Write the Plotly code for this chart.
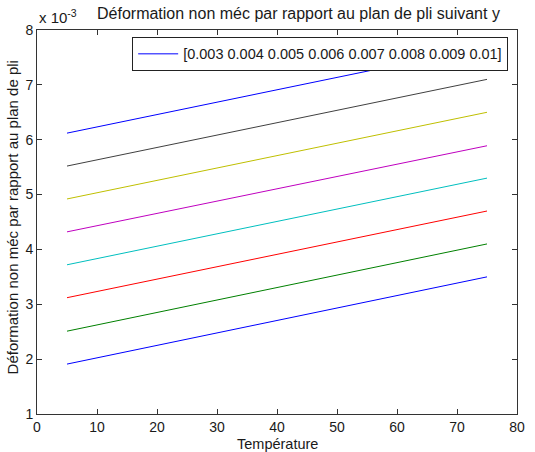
import plotly.graph_objects as go

# Data (values in strain units; y axis scaled x 10^-3)
temperature = [5, 75]
legend_label = "[0.003 0.004 0.005 0.006 0.007 0.008 0.009 0.01]"
start_vals = [1.91e-3, 2.51e-3, 3.12e-3, 3.72e-3, 4.32e-3, 4.92e-3, 5.52e-3, 6.12e-3]
end_vals = [3.50e-3, 4.10e-3, 4.70e-3, 5.30e-3, 5.89e-3, 6.50e-3, 7.10e-3, 7.70e-3]
colors = ["#0000ff", "#008000", "#ff0000", "#00bfbf", "#bf00bf", "#bfbf00", "#404040", "#0000ff"]
x_ticks = [0, 10, 20, 30, 40, 50, 60, 70, 80]
y_ticks = [1e-3, 2e-3, 3e-3, 4e-3, 5e-3, 6e-3, 7e-3, 8e-3]
y_ticklabels = ["1", "2", "3", "4", "5", "6", "7", "8"]

FONT = "Liberation Sans, Arial, sans-serif"

fig = go.Figure()
for i, (s, e) in enumerate(zip(start_vals, end_vals)):
    fig.add_trace(go.Scatter(
        x=temperature, y=[s, e], mode="lines",
        line=dict(color=colors[i], width=1),
        name=legend_label if i == 0 else "serie %d" % i,
        legendgroup="g%d" % i,
        showlegend=(i == 0),
    ))

W, H = 535, 452
ml, mr, mt, mb = 37, 10, 30, 38

fig.update_layout(
    width=W, height=H,
    margin=dict(l=ml, r=mr, t=mt, b=mb),
    paper_bgcolor="white", plot_bgcolor="white",
    font=dict(family=FONT, size=14, color="#1a1a1a"),
    showlegend=True,
    legend=dict(
        x=0.9816, y=0.982, xanchor="right", yanchor="top",
        bgcolor="white", bordercolor="#222", borderwidth=1,
        itemwidth=40,
        font=dict(family=FONT, size=14.5, color="#1a1a1a"),
    ),
)
fig.update_xaxes(
    range=[0, 80], tickvals=x_ticks, ticks="inside", ticklen=5,
    tickcolor="#333", showline=True, linecolor="#333", linewidth=1,
    mirror="ticks", showgrid=False, zeroline=False,
    tickfont=dict(family=FONT, size=14),
)
fig.update_yaxes(
    range=[1e-3, 8e-3], tickvals=y_ticks, ticktext=y_ticklabels,
    ticks="inside", ticklen=5, tickcolor="#333", showline=True,
    linecolor="#333", linewidth=1, mirror="ticks", showgrid=False,
    zeroline=False, tickfont=dict(family=FONT, size=14),
)

pw = W - ml - mr
ph = H - mt - mb
def px_x(p):
    return (p - ml) / pw
def px_y(p):
    return 1 - (p - mt) / ph

fig.add_annotation(text="Déformation non méc par rapport au plan de pli suivant y",
                   x=px_x(303), y=px_y(14), xref="paper", yref="paper",
                   showarrow=False, xanchor="center", yanchor="middle",
                   font=dict(family=FONT, size=16))
fig.add_annotation(text="x 10<sup>-3</sup>",
                   x=px_x(37), y=px_y(16), xref="paper", yref="paper",
                   showarrow=False, xanchor="left", yanchor="middle",
                   font=dict(family=FONT, size=15))
fig.add_annotation(text="Température",
                   x=0.5, y=px_y(444), xref="paper", yref="paper",
                   showarrow=False, xanchor="center", yanchor="middle",
                   font=dict(family=FONT, size=14.5))
fig.add_annotation(text="Déformation non méc par rapport au plan de pli",
                   x=px_x(12), y=px_y(217), xref="paper", yref="paper",
                   showarrow=False, textangle=-90, xanchor="center", yanchor="middle",
                   font=dict(family=FONT, size=15))

fig.write_html("out.html")
